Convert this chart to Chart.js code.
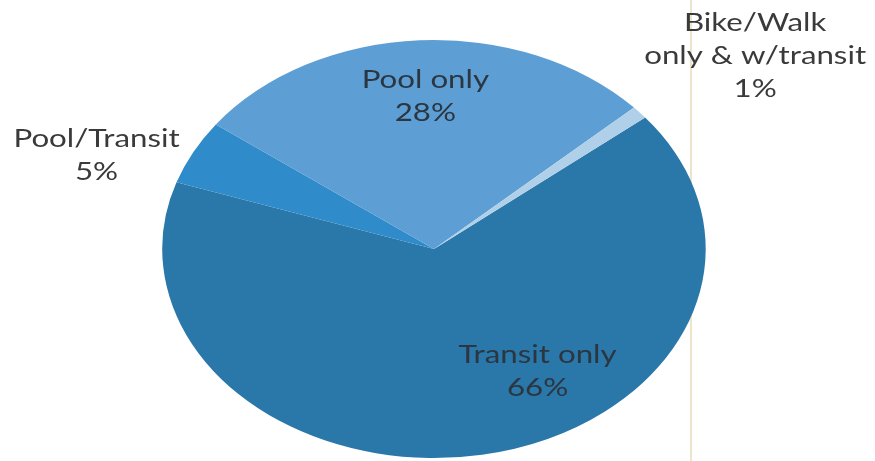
<!DOCTYPE html>
<html>
<head>
<meta charset="utf-8">
<script src="https://cdn.jsdelivr.net/npm/chart.js@4.4.1/dist/chart.umd.min.js"></script>
<style>
  html, body { margin: 0; padding: 0; background: #ffffff; }
  #wrap { width: 875px; height: 461px; position: relative; }
</style>
</head>
<body>
<div id="wrap"><canvas id="pie" width="875" height="461"></canvas></div>
<script>
// Commute mode shares (percent)
const categories = ['Transit only', 'Pool/Transit', 'Pool only', 'Bike/Walk only & w/transit'];
const shares = [66, 5, 28, 1];
// Label lines per slice
const labelLines = [
  ['Transit only', '66%'],
  ['Pool/Transit', '5%'],
  ['Pool only', '28%'],
  ['Bike/Walk', 'only & w/transit', '1%']
];

const colors = ['#2a77a9', '#2f8bc9', '#5d9fd4', '#b0cfe8'];

// Label placement in pie space: angle (deg, clockwise from 3 o'clock) and radius fraction
const labelPlace = [
  { angle: 57, r: 0.70, color: '#2b3640' },
  { angle: 199.8, r: 1.32, color: '#3a3a3a' },
  { angle: 267.5, r: 0.73, color: '#2b3640' },
  { angle: -38, r: 1.50, color: '#3a3a3a' }
];

const STRETCH_X = 1.30;   // horizontal stretch of the pie disc
const TEXT_STRETCH = 1.25;
const LINE_H = 33;

// Stretches the disc into an ellipse around its centre
const ellipsePlugin = {
  id: 'ellipse',
  beforeDatasetsDraw(chart) {
    const arc = chart.getDatasetMeta(0).data[0];
    const ctx = chart.ctx;
    ctx.save();
    ctx.translate(arc.x, arc.y);
    ctx.scale(STRETCH_X, 1);
    ctx.translate(-arc.x, -arc.y);
  },
  afterDatasetsDraw(chart) {
    chart.ctx.restore();
  }
};

// Slice labels, placed from each arc's geometry
const labelPlugin = {
  id: 'sliceLabels',
  afterDraw(chart) {
    const ctx = chart.ctx;
    const arcs = chart.getDatasetMeta(0).data;
    ctx.save();
    ctx.font = '25px Lato, "Open Sans", sans-serif';
    ctx.textAlign = 'center';
    ctx.textBaseline = 'middle';
    arcs.forEach((arc, i) => {
      const p = labelPlace[i];
      const a = p.angle * Math.PI / 180;
      const cx = arc.x + Math.cos(a) * arc.outerRadius * p.r * STRETCH_X;
      const cy = arc.y + Math.sin(a) * arc.outerRadius * p.r;
      const lines = labelLines[i];
      const top = cy - (lines.length - 1) * LINE_H / 2;
      ctx.fillStyle = p.color;
      lines.forEach((t, k) => {
        ctx.save();
        ctx.translate(cx, top + k * LINE_H);
        ctx.scale(TEXT_STRETCH, 1);
        ctx.fillText(t, 0, 0);
        ctx.restore();
      });
    });
    ctx.restore();
  }
};

// Faint vertical rule behind the pie, right of centre
const rulePlugin = {
  id: 'rule',
  beforeDatasetsDraw(chart) {
    const ctx = chart.ctx;
    ctx.save();
    ctx.strokeStyle = 'rgba(228, 210, 170, 0.8)';
    ctx.lineWidth = 1.5;
    ctx.beginPath();
    ctx.moveTo(691, 0);
    ctx.lineTo(691, chart.height);
    ctx.stroke();
    ctx.restore();
  }
};

new Chart(document.getElementById('pie'), {
  type: 'pie',
  data: {
    labels: categories,
    datasets: [{
      data: shares,
      backgroundColor: colors,
      borderWidth: 0
    }]
  },
  options: {
    responsive: false,
    animation: false,
    rotation: 51,
    layout: { padding: { left: 0, right: 7, top: 40, bottom: 3 } },
    plugins: {
      legend: { display: false },
      tooltip: { enabled: false }
    }
  },
  plugins: [rulePlugin, ellipsePlugin, labelPlugin]
});
</script>
</body>
</html>
